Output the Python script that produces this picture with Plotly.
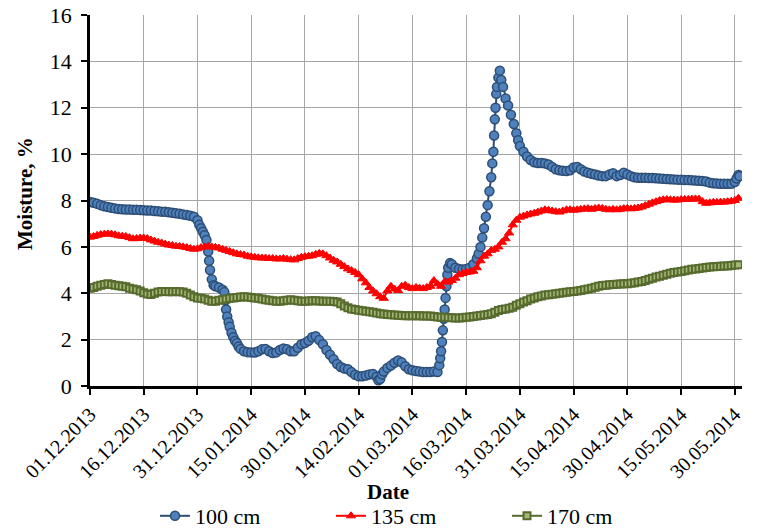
import pandas as pd
import plotly.graph_objects as go

START = "2013-12-01"

# ---- data (day offset from 01.12.2013, moisture %) ----
d100 = [0, 1, 2, 3, 4, 5, 6, 7, 8, 9, 10, 11, 12, 13, 14, 15, 16, 17, 18, 19, 20,
        21, 22, 23, 24, 25, 26, 27, 28, 29, 30, 30.5, 31, 31.5, 32, 32.5, 33, 33.25,
        33.5, 34, 34.5, 35, 36, 37, 37.5, 37.8, 38, 38.3, 38.7, 39, 39.5, 40, 40.5,
        41, 41.5, 42, 43, 44, 45, 46, 47, 48, 49, 50, 51, 52, 53, 54, 55, 56, 57, 58,
        59, 60, 61, 62, 63, 64, 65, 66, 67, 68, 69, 70, 71, 72, 73, 74, 75, 76, 77,
        78, 79, 80, 80.5, 81, 81.5, 82, 83, 84, 85, 86, 87, 88, 89, 90, 91, 92, 93,
        94, 95, 96, 97, 97.5, 97.75, 98, 98.25, 98.5, 98.75, 99, 99.25, 99.5, 99.75,
        100, 100.5, 101, 102, 103, 104, 105, 106, 107, 108, 108.5, 109, 109.5, 110,
        110.5, 111, 111.5, 112, 112.3, 112.6, 112.8, 113, 113.2, 113.4, 113.6, 114,
        114.4, 114.8, 115.3, 116, 116.7, 117.5, 118.3, 119, 119.5, 120, 121, 122, 123,
        124, 125, 126, 127, 128, 129, 130, 131, 132, 133, 134, 135, 136, 137, 138,
        139, 140, 141, 142, 143, 144, 145, 146, 147, 148, 149, 150, 151, 152, 153,
        154, 155, 156, 157, 158, 159, 160, 161, 162, 163, 164, 165, 166, 167, 168,
        169, 170, 171, 172, 173, 174, 175, 176, 177, 178, 179, 180, 180.5, 181, 181.3]
v100 = [7.93, 7.9, 7.86, 7.8, 7.75, 7.72, 7.69, 7.66, 7.63, 7.62, 7.61, 7.61, 7.6,
        7.6, 7.59, 7.58, 7.57, 7.57, 7.55, 7.54, 7.52, 7.51, 7.49, 7.47, 7.45, 7.43,
        7.4, 7.37, 7.34, 7.3, 7.15, 6.95, 6.8, 6.65, 6.5, 6.3, 5.8, 5.4, 5.0, 4.6,
        4.35, 4.3, 4.25, 4.15, 4.05, 3.7, 3.3, 3.0, 2.75, 2.55, 2.3, 2.1, 1.95, 1.85,
        1.7, 1.6, 1.5, 1.46, 1.45, 1.44, 1.5, 1.58, 1.6, 1.5, 1.42, 1.45, 1.55, 1.62,
        1.58, 1.5, 1.5, 1.65, 1.8, 1.85, 1.95, 2.1, 2.15, 1.98, 1.8, 1.55, 1.35, 1.15,
        0.95, 0.82, 0.75, 0.72, 0.6, 0.48, 0.42, 0.42, 0.45, 0.5, 0.52, 0.4, 0.25,
        0.3, 0.5, 0.62, 0.78, 0.88, 1.0, 1.1, 1.02, 0.85, 0.72, 0.68, 0.65, 0.62,
        0.6, 0.6, 0.6, 0.62, 0.6, 0.9, 1.2, 1.5, 1.9, 2.4, 2.9, 3.3, 3.8, 4.3, 4.8,
        5.1, 5.3, 5.25, 5.1, 5.05, 5.02, 5.05, 5.1, 5.25, 5.5, 5.7, 6.0, 6.4, 6.8,
        7.3, 7.8, 8.4, 9.0, 9.6, 10.1, 10.8, 11.5, 12.0, 12.6, 12.9, 13.3, 13.6,
        13.2, 12.9, 12.4, 12.1, 11.7, 11.3, 10.9, 10.6, 10.35, 10.1, 9.9, 9.75, 9.65,
        9.62, 9.62, 9.6, 9.55, 9.45, 9.35, 9.3, 9.28, 9.27, 9.3, 9.42, 9.45, 9.35,
        9.25, 9.2, 9.15, 9.12, 9.08, 9.05, 9.05, 9.12, 9.18, 9.05, 9.1, 9.2, 9.12,
        9.05, 9.0, 8.98, 8.98, 8.98, 8.97, 8.97, 8.96, 8.95, 8.94, 8.93, 8.92, 8.91,
        8.9, 8.89, 8.88, 8.88, 8.87, 8.86, 8.85, 8.84, 8.82, 8.77, 8.74, 8.73, 8.72,
        8.72, 8.72, 8.72, 8.8, 8.95, 9.1, 9.05]

d135 = list(range(182))
v135 = [6.42, 6.45, 6.5, 6.53, 6.55, 6.56, 6.55, 6.52, 6.48, 6.46, 6.45, 6.4, 6.35,
        6.36, 6.38, 6.38, 6.36, 6.3, 6.25, 6.2, 6.17, 6.12, 6.08, 6.06, 6.03, 6.02,
        6.0, 5.97, 5.93, 5.9, 5.92, 5.97, 6.0, 6.02, 6.0, 5.98, 5.95, 5.9, 5.85, 5.8,
        5.75, 5.7, 5.67, 5.65, 5.6, 5.57, 5.55, 5.53, 5.52, 5.52, 5.5, 5.5, 5.48,
        5.48, 5.5, 5.47, 5.45, 5.44, 5.5, 5.55, 5.58, 5.6, 5.62, 5.68, 5.72, 5.7,
        5.62, 5.52, 5.42, 5.35, 5.25, 5.15, 5.05, 4.98, 4.9, 4.8, 4.62, 4.45, 4.25,
        4.1, 3.98, 3.85, 3.78, 4.1, 4.3, 4.18, 4.12, 4.3, 4.35, 4.25, 4.2, 4.25,
        4.22, 4.2, 4.25, 4.3, 4.55, 4.4, 4.3, 4.5, 4.48, 4.55, 4.65, 4.8, 4.85, 4.9,
        4.92, 4.95, 5.1, 5.4, 5.6, 5.7, 5.85, 5.9, 6.0, 6.2, 6.35, 6.6, 6.95, 7.15,
        7.28, 7.33, 7.38, 7.42, 7.45, 7.5, 7.55, 7.6, 7.58, 7.55, 7.52, 7.5, 7.55,
        7.6, 7.6, 7.58, 7.6, 7.62, 7.64, 7.65, 7.62, 7.66, 7.68, 7.66, 7.62, 7.6,
        7.62, 7.6, 7.62, 7.65, 7.66, 7.64, 7.66, 7.68, 7.72, 7.78, 7.84, 7.9, 7.95,
        8.0, 8.03, 8.04, 8.03, 8.02, 8.02, 8.04, 8.05, 8.05, 8.06, 8.07, 8.06, 7.95,
        7.88, 7.9, 7.92, 7.92, 7.93, 7.93, 7.95, 7.97, 8.0, 8.1]

d170 = list(range(182))
v170 = [4.22, 4.25, 4.3, 4.35, 4.38, 4.41, 4.38, 4.35, 4.32, 4.3, 4.28, 4.22, 4.18,
        4.15, 4.1, 4.02, 3.97, 3.95, 4.0, 4.05, 4.08, 4.08, 4.07, 4.07, 4.08, 4.07,
        4.05, 4.0, 3.92, 3.85, 3.8, 3.78, 3.75, 3.7, 3.66, 3.66, 3.7, 3.72, 3.75,
        3.78, 3.8, 3.82, 3.84, 3.85, 3.84, 3.82, 3.8, 3.78, 3.75, 3.72, 3.7, 3.68,
        3.66, 3.66, 3.68, 3.7, 3.72, 3.7, 3.68, 3.66, 3.66, 3.67, 3.68, 3.68, 3.67,
        3.66, 3.66, 3.65, 3.64, 3.62, 3.55, 3.45, 3.38, 3.32, 3.3, 3.27, 3.24, 3.22,
        3.2, 3.18, 3.15, 3.12, 3.1, 3.08, 3.07, 3.06, 3.05, 3.04, 3.03, 3.03, 3.03,
        3.03, 3.03, 3.02, 3.02, 3.02, 3.0, 2.98, 2.97, 2.96, 2.95, 2.94, 2.93, 2.93,
        2.94, 2.96, 2.98, 3.0, 3.02, 3.04, 3.06, 3.08, 3.12, 3.18, 3.26, 3.3, 3.32,
        3.35, 3.4, 3.48, 3.55, 3.62, 3.68, 3.75, 3.8, 3.85, 3.88, 3.92, 3.94, 3.96,
        3.98, 4.0, 4.02, 4.04, 4.06, 4.08, 4.1, 4.12, 4.15, 4.18, 4.22, 4.26, 4.3,
        4.33, 4.35, 4.37, 4.38, 4.39, 4.4, 4.41, 4.41, 4.43, 4.45, 4.48, 4.51, 4.55,
        4.6, 4.65, 4.7, 4.73, 4.78, 4.82, 4.86, 4.89, 4.92, 4.94, 4.97, 5.0, 5.03,
        5.05, 5.07, 5.09, 5.11, 5.13, 5.14, 5.15, 5.16, 5.17, 5.18, 5.2, 5.22, 5.23]

tick_labels = ["01.12.2013", "16.12.2013", "31.12.2013", "15.01.2014", "30.01.2014",
               "14.02.2014", "01.03.2014", "16.03.2014", "31.03.2014", "15.04.2014",
               "30.04.2014", "15.05.2014", "30.05.2014"]
series_names = ["100 cm", "135 cm", "170 cm"]


def to_dates(days):
    return pd.Timestamp(START) + pd.to_timedelta(days, unit="D")


tick_vals = pd.to_datetime(tick_labels, format="%d.%m.%Y")

FONT = "Liberation Serif, Times New Roman, Times, serif"
W, H = 758, 530
L, R, T, B = 90, 16, 15, 144
PW, PH = W - L - R, H - T - B

fig = go.Figure()
fig.add_trace(go.Scatter(
    x=to_dates(d100), y=v100, name=series_names[0], mode="lines+markers",
    line=dict(color="#2C4D75", width=2),
    marker=dict(symbol="circle", size=9, color="#4F81BD",
                line=dict(color="#2C4D75", width=1.5))))
fig.add_trace(go.Scatter(
    x=to_dates(d135), y=v135, name=series_names[1], mode="lines+markers",
    line=dict(color="#FF0000", width=2),
    marker=dict(symbol="triangle-up", size=8, color="#FF0000",
                line=dict(color="#FF0000", width=1))))
fig.add_trace(go.Scatter(
    x=to_dates(d170), y=v170, name=series_names[2], mode="lines+markers",
    line=dict(color="#576B2E", width=2),
    marker=dict(symbol="square", size=7, color="#A3B875",
                line=dict(color="#576B2E", width=2))))

fig.update_layout(
    width=W, height=H,
    margin=dict(l=L, r=R, t=T, b=B, autoexpand=False),
    paper_bgcolor="white", plot_bgcolor="white",
    font=dict(family=FONT, size=21, color="black"),
    showlegend=True,
    legend=dict(orientation="h", xref="container", yref="container",
                x=155 / W, xanchor="left", y=1 - 516 / H, yanchor="middle",
                entrywidth=131, entrywidthmode="pixels",
                font=dict(family=FONT, size=22, color="black"),
                bgcolor="rgba(0,0,0,0)"),
    annotations=[
        dict(text="<b>Date</b>", xref="paper", yref="paper",
             x=(388 - L) / PW, y=-(492 - (T + PH)) / PH,
             xanchor="center", yanchor="middle", showarrow=False,
             font=dict(family=FONT, size=21, color="black")),
        dict(text="<b>Moisture, %</b>", xref="paper", yref="paper",
             x=(25 - L) / PW, y=(T + PH - 194) / PH, textangle=-90,
             xanchor="center", yanchor="middle", showarrow=False,
             font=dict(family=FONT, size=21, color="black")),
    ],
)
fig.update_xaxes(
    type="date", range=[START, "2014-06-01"], automargin=False,
    tickmode="array", tickvals=tick_vals, ticktext=tick_labels, tickangle=-45,
    tickfont=dict(family=FONT, size=20, color="black"),
    showline=True, linecolor="black", linewidth=2.5,
    ticks="outside", ticklen=6, tickwidth=2, tickcolor="black",
    showgrid=True, gridcolor="#A6A6A6", gridwidth=1, zeroline=False,
)
fig.update_yaxes(
    range=[0, 16], tickmode="linear", tick0=0, dtick=2, automargin=False,
    tickfont=dict(family=FONT, size=22, color="black"),
    ticklabelstandoff=5,
    showline=True, linecolor="black", linewidth=2.5,
    ticks="outside", ticklen=6, tickwidth=2, tickcolor="black",
    showgrid=True, gridcolor="#A6A6A6", gridwidth=1, zeroline=False,
)
fig.write_html("out.html", config={"displayModeBar": False},
               post_script="document.body.style.margin='0px';document.body.style.overflow='hidden';")
